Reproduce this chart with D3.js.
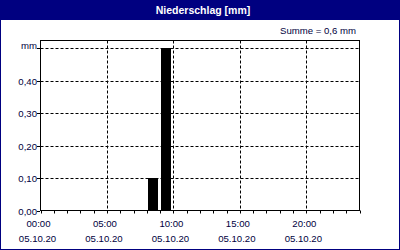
<!DOCTYPE html>
<html><head><meta charset="utf-8">
<script src="https://cdn.jsdelivr.net/npm/d3@7"></script>
<style>body{margin:0;background:#fff}svg{display:block}</style>
</head><body>
<script>
const title = "Niederschlag [mm]";
const sumLabel = "Summe = 0,6 mm";
const unitLabel = "mm";
const hours = d3.range(24);
const precip = [0,0,0,0,0,0,0,0,0.1,0.5,0,0,0,0,0,0,0,0,0,0,0,0,0,0];
const yTicks = [0,0.1,0.2,0.3,0.4,0.5];
const yTickLabels = ["0,00","0,10","0,20","0,30","0,40","mm"];
const xMajor = [0,5,10,15,20];
const xTimeLabels = ["00:00","05:00","10:00","15:00","20:00"];
const xDateLabels = ["05.10.20","05.10.20","05.10.20","05.10.20","05.10.20"];

const W=400,H=250;
const navy="#000080", txt="#000040";
const font="'Liberation Sans', Arial, sans-serif";
const svg=d3.select("body").append("svg").attr("width",W).attr("height",H);

svg.append("rect").attr("x",0.5).attr("y",0.5).attr("width",W-1).attr("height",H-1)
  .attr("fill","#fff").attr("stroke",navy);
svg.append("rect").attr("x",0).attr("y",0).attr("width",W).attr("height",20).attr("fill",navy);
svg.append("text").attr("x",203).attr("y",14).attr("text-anchor","middle")
  .attr("fill","#fff").attr("font-family",font).attr("font-weight","bold").attr("font-size","10.5px").text(title);
svg.append("text").attr("x",356).attr("y",34).attr("text-anchor","end")
  .attr("fill",txt).attr("font-family",font).attr("font-size","9.6px").text(sumLabel);

const x=d3.scaleLinear().domain([0,24]).range([40.5,359.5]);
const y=d3.scaleLinear().domain([0,0.5246]).range([210.5,40.5]);

// grid
const g=svg.append("g");
g.selectAll(".hg").data(yTicks.filter(d=>d>0)).join("line")
  .attr("x1",40.5).attr("x2",359.5).attr("y1",d=>Math.round(y(d))+0.5).attr("y2",d=>Math.round(y(d))+0.5)
  .attr("stroke","#000").attr("stroke-dasharray","3,2");
g.selectAll(".vg").data(xMajor.filter(d=>d>0)).join("line")
  .attr("x1",d=>Math.round(x(d))+0.5).attr("x2",d=>Math.round(x(d))+0.5).attr("y1",40.5).attr("y2",210.5)
  .attr("stroke","#000").attr("stroke-dasharray","3,2");

// bars
svg.selectAll(".bar").data(hours.filter(h=>precip[h]>0)).join("rect")
  .attr("x",h=>Math.round(x(h)+1))
  .attr("width",h=>Math.round(x(h+1)-x(h)-3))
  .attr("y",h=>Math.round(y(precip[h])))
  .attr("height",h=>Math.round(y(0))-Math.round(y(precip[h])))
  .attr("fill","#000");

// frame
svg.append("rect").attr("x",40.5).attr("y",40.5).attr("width",319).attr("height",170)
  .attr("fill","none").attr("stroke","#000");

// y ticks & labels
svg.selectAll(".yt").data(yTicks).join("line")
  .attr("x1",37).attr("x2",40).attr("y1",d=>Math.round(y(d))+0.5).attr("y2",d=>Math.round(y(d))+0.5).attr("stroke","#000");
svg.selectAll(".yl").data(yTicks).join("text")
  .attr("x",37).attr("y",(d,i)=>i===yTicks.length-1?Math.round(y(d))+0.5:Math.round(y(d))+3.8)
  .attr("text-anchor","end").attr("fill",txt).attr("font-family",font).attr("font-size","9.6px")
  .text((d,i)=>yTickLabels[i]);

// x ticks
svg.selectAll(".xt").data(d3.range(25)).join("line")
  .attr("x1",d=>Math.round(x(d))+0.5).attr("x2",d=>Math.round(x(d))+0.5).attr("y1",210.5).attr("y2",213.5).attr("stroke","#000");
svg.selectAll(".xl").data(xMajor).join("text")
  .attr("x",d=>x(d)-2).attr("y",227).attr("text-anchor","middle")
  .attr("fill",txt).attr("font-family",font).attr("font-size","9.6px").text((d,i)=>xTimeLabels[i]);
svg.selectAll(".xd").data(xMajor).join("text")
  .attr("x",d=>x(d)-3).attr("y",242).attr("text-anchor","middle")
  .attr("fill",txt).attr("font-family",font).attr("font-size","9.6px").text((d,i)=>xDateLabels[i]);
</script>
</body></html>
